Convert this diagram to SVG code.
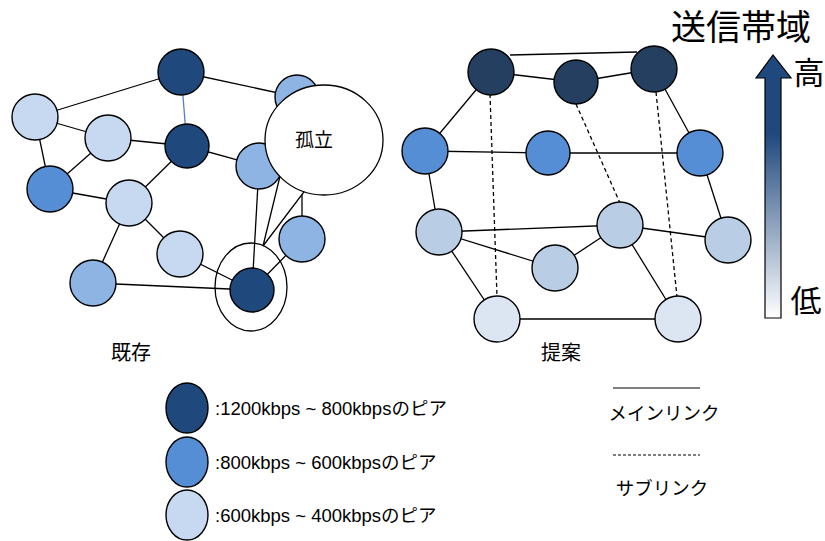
<svg xmlns="http://www.w3.org/2000/svg" width="825" height="541" viewBox="0 0 825 541">
<style>
.n{stroke:#000;stroke-width:1.4}
.e{stroke:#000;stroke-width:1.3;fill:none}
.d{stroke:#000;stroke-width:1.3;fill:none;stroke-dasharray:4 3}
.dk{fill:#1F497D}.md{fill:#8EB4E3}.bl{fill:#558ED5}.lt{fill:#C6D9F1}
.rdk{fill:#243F60}.rl3{fill:#B9CDE5}.rvl{fill:#DCE6F2}
.jp{font-family:"Noto Sans CJK JP","Noto Sans",sans-serif;fill:#000}
.lg{font-family:"Liberation Sans","Noto Sans CJK JP",sans-serif;font-size:18.5px;fill:#000}
</style>
<defs>
<linearGradient id="grad" x1="0" y1="0" x2="0" y2="1">
<stop offset="0" stop-color="#1F497D"/>
<stop offset="0.3" stop-color="#1F497D"/>
<stop offset="1" stop-color="#FFFFFF"/>
</linearGradient>
</defs>
<rect width="825" height="541" fill="#fff"/>

<g id="connectors">
<!-- left -->
<line class="e" x1="181" y1="72" x2="35" y2="117"/>
<line class="e" x1="181" y1="72" x2="297" y2="97"/>
<line x1="181" y1="72" x2="187" y2="146" stroke="#4F81BD" stroke-width="1.3"/>
<line class="e" x1="35" y1="117" x2="108" y2="138"/>
<line class="e" x1="35" y1="117" x2="50" y2="189"/>
<line class="e" x1="108" y1="138" x2="187" y2="146"/>
<line class="e" x1="108" y1="138" x2="50" y2="189"/>
<line class="e" x1="187" y1="146" x2="259" y2="166"/>
<line class="e" x1="187" y1="146" x2="129" y2="203"/>
<line class="e" x1="50" y1="189" x2="129" y2="203"/>
<line class="e" x1="129" y1="203" x2="180" y2="254"/>
<line class="e" x1="129" y1="203" x2="93" y2="283"/>
<line class="e" x1="180" y1="254" x2="252" y2="290"/>
<line class="e" x1="93" y1="283" x2="252" y2="290"/>
<line class="e" x1="252" y1="290" x2="302" y2="239"/>
<line class="e" x1="259" y1="166" x2="252" y2="290"/>
<line class="e" x1="302" y1="97" x2="302" y2="239"/>
<!-- right -->
<line class="e" x1="510" y1="55" x2="637" y2="52"/>
<line class="e" x1="491" y1="72" x2="576" y2="82"/>
<line class="e" x1="576" y1="82" x2="654" y2="69"/>
<line class="e" x1="491" y1="72" x2="425" y2="151"/>
<line class="e" x1="654" y1="69" x2="700" y2="153"/>
<line class="e" x1="425" y1="151" x2="548" y2="153"/>
<line class="e" x1="548" y1="153" x2="700" y2="153"/>
<line class="e" x1="425" y1="151" x2="439" y2="232"/>
<line class="e" x1="700" y1="153" x2="728" y2="240"/>
<line class="e" x1="439" y1="232" x2="620" y2="225"/>
<line class="e" x1="439" y1="232" x2="555" y2="268"/>
<line class="e" x1="555" y1="268" x2="620" y2="225"/>
<line class="e" x1="620" y1="225" x2="728" y2="240"/>
<line class="e" x1="439" y1="232" x2="497" y2="319"/>
<line class="e" x1="620" y1="225" x2="678" y2="319"/>
<line class="e" x1="497" y1="319" x2="678" y2="319"/>
<line class="d" x1="490" y1="94" x2="497" y2="297"/>
<line class="d" x1="576" y1="104" x2="620" y2="203"/>
<line class="d" x1="656" y1="92" x2="677" y2="297"/>
</g>

<g id="left-nodes">
<circle id="l-top" class="n dk" cx="181" cy="72" r="23"/>
<circle id="l-light1" class="n lt" cx="35" cy="117" r="23"/>
<circle id="l-light2" class="n lt" cx="108" cy="138" r="23"/>
<circle id="l-dark2" class="n dk" cx="187" cy="146" r="22"/>
<circle id="l-hidden" class="n md" cx="297" cy="97" r="22"/>
<circle id="l-mid" class="n md" cx="259" cy="166" r="23"/>
<circle id="l-blue" class="n bl" cx="50" cy="189" r="23"/>
<circle id="l-light3" class="n lt" cx="129" cy="203" r="23"/>
<circle id="l-light4" class="n lt" cx="180" cy="254" r="23"/>
<circle id="l-med-ll" class="n md" cx="93" cy="283" r="23"/>
<circle id="l-dark3" class="n dk" cx="252" cy="290" r="22"/>
<circle id="l-med-r" class="n md" cx="302" cy="239" r="23"/>
<ellipse id="ring" cx="251" cy="287" rx="36" ry="44" fill="none" stroke="#000" stroke-width="1.3"/>
</g>

<g id="callout">
<polygon points="282,168 263,246 310,184" fill="#fff" stroke="#000" stroke-width="1.3"/>
<ellipse cx="324" cy="140" rx="59" ry="55" fill="#fff" stroke="#000" stroke-width="1.3"/>
<text class="jp" x="314" y="147" font-size="19" text-anchor="middle">孤立</text>
</g>

<g id="right-nodes">
<circle id="r-d1" class="n rdk" cx="491" cy="72" r="23"/>
<circle id="r-d2" class="n rdk" cx="576" cy="82" r="22"/>
<circle id="r-d3" class="n rdk" cx="654" cy="69" r="23"/>
<circle id="r-b1" class="n bl" cx="425" cy="151" r="23"/>
<circle id="r-b2" class="n bl" cx="548" cy="153" r="22"/>
<circle id="r-b3" class="n bl" cx="700" cy="153" r="23"/>
<circle id="r-l1" class="n rl3" cx="439" cy="232" r="23"/>
<circle id="r-l2" class="n rl3" cx="555" cy="268" r="23"/>
<circle id="r-l3" class="n rl3" cx="620" cy="225" r="23"/>
<circle id="r-l4" class="n rl3" cx="728" cy="240" r="23"/>
<circle id="r-v1" class="n rvl" cx="497" cy="319" r="23"/>
<circle id="r-v2" class="n rvl" cx="678" cy="319" r="23"/>
</g>

<g id="labels">
<text class="jp" x="131" y="360" font-size="20" text-anchor="middle">既存</text>
<text class="jp" x="561" y="360" font-size="20" text-anchor="middle">提案</text>
</g>

<g id="bandwidth-scale">
<text class="jp" x="741" y="40" font-size="35" text-anchor="middle">送信帯域</text>
<path d="M765,318 L765,78 L756,78 L773,55 L791,78 L781,78 L781,318 Z" fill="url(#grad)" stroke="#000" stroke-width="1.2"/>
<text class="jp" x="809" y="84" font-size="31" text-anchor="middle">高</text>
<text class="jp" x="806" y="312" font-size="31" text-anchor="middle">低</text>
</g>

<g id="legend">
<ellipse class="n dk" cx="187" cy="408" rx="21" ry="25"/>
<ellipse class="n bl" cx="187" cy="462" rx="21" ry="25"/>
<ellipse class="n lt" cx="187" cy="515" rx="21" ry="25"/>
<text class="lg" x="215" y="415">:1200kbps ~ 800kbpsのピア</text>
<text class="lg" x="215" y="469">:800kbps ~ 600kbpsのピア</text>
<text class="lg" x="215" y="522">:600kbps ~ 400kbpsのピア</text>
<line x1="613" y1="388" x2="700" y2="388" stroke="#000" stroke-width="1.2"/>
<line x1="613" y1="455" x2="700" y2="455" stroke="#000" stroke-width="1.2" stroke-dasharray="3 2"/>
<text class="jp" x="664" y="420" font-size="18.5" text-anchor="middle">メインリンク</text>
<text class="jp" x="662" y="495" font-size="18.5" text-anchor="middle">サブリンク</text>
</g>
</svg>
